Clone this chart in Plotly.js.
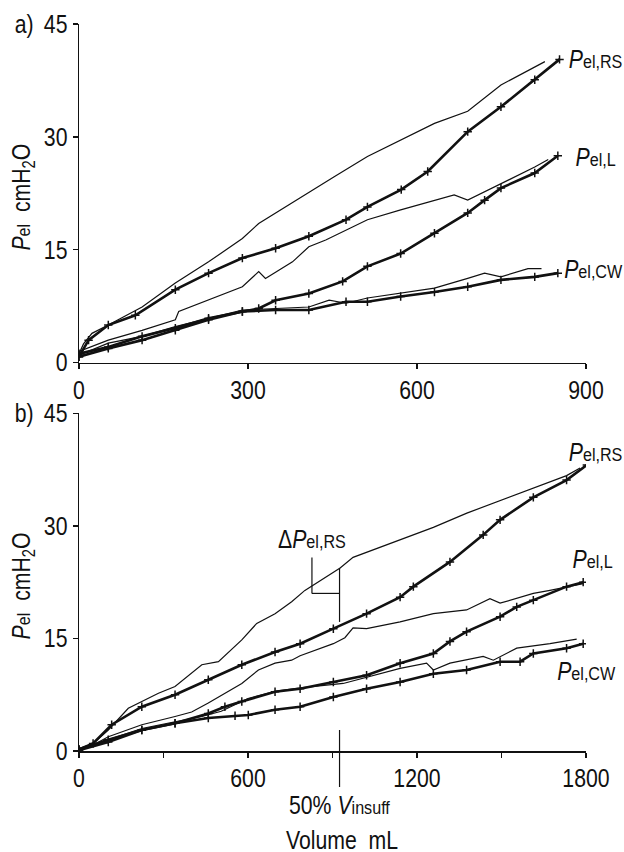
<!DOCTYPE html>
<html>
<head>
<meta charset="utf-8">
<script src="https://cdn.plot.ly/plotly-3.0.1.min.js"></script>
<style>html,body{margin:0;padding:0;background:#fff;}#chart{width:624px;height:852px;}</style>
</head>
<body>
<div id="chart"></div>
<script>
// ---- Panel a (volume mL vs Pel cmH2O) ----
var aXTicks = [0, 300, 600, 900];
var aYTicks = [0, 15, 30, 45];
var aRsThinX = [0, 8, 23, 52, 112, 171, 230, 290, 319, 349, 385, 453, 512, 571, 631, 690, 749, 827];
var aRsThinY = [1.2, 2.5, 3.9, 5.0, 7.4, 10.6, 13.4, 16.5, 18.5, 19.9, 21.6, 24.7, 27.4, 29.6, 31.8, 33.4, 36.9, 40.0];
var aRsMkX = [0, 17, 52, 100, 171, 230, 290, 349, 408, 474, 512, 572, 619, 690, 749, 809, 853];
var aRsMkY = [0.8, 3.0, 5.0, 6.3, 9.7, 11.9, 13.9, 15.2, 16.8, 19.0, 20.7, 23.0, 25.4, 30.7, 34.0, 37.6, 40.3];
var aLThinX = [0, 52, 112, 171, 177, 230, 290, 319, 331, 379, 408, 438, 474, 512, 571, 631, 666, 690, 726, 749, 809, 833];
var aLThinY = [1.5, 3.0, 4.3, 5.7, 6.8, 8.3, 10.1, 12.1, 11.2, 13.4, 15.4, 16.3, 17.6, 19.0, 20.3, 21.6, 22.3, 21.6, 22.9, 23.8, 26.0, 27.0];
var aLMkX = [0, 52, 112, 171, 230, 290, 319, 349, 408, 468, 512, 571, 631, 690, 720, 749, 809, 850];
var aLMkY = [1.2, 2.1, 3.5, 4.6, 5.9, 6.8, 7.2, 8.3, 9.2, 10.8, 12.8, 14.5, 17.2, 19.9, 21.6, 23.2, 25.2, 27.5];
var aCwThinX = [0, 52, 112, 171, 290, 408, 444, 474, 512, 571, 631, 690, 720, 749, 797, 821];
var aCwThinY = [1.0, 2.6, 3.5, 4.8, 7.0, 7.4, 8.3, 7.9, 8.6, 9.2, 9.9, 11.2, 11.9, 11.4, 12.5, 12.5];
var aCwMkX = [0, 52, 112, 171, 230, 290, 349, 408, 474, 512, 571, 631, 690, 749, 809, 850];
var aCwMkY = [0.8, 1.9, 3.0, 4.3, 5.7, 6.8, 7.0, 7.0, 8.1, 8.1, 8.8, 9.4, 10.1, 11.0, 11.4, 11.9];

// ---- Panel b ----
var bXTicks = [0, 300, 600, 900, 1200, 1500, 1800];
var bXTickText = ['0', '', '600', '', '1200', '', '1800'];
var bYTicks = [0, 15, 30, 45];
var bRsThinX = [0, 50, 104, 175, 282, 341, 436, 495, 578, 631, 696, 755, 802, 832, 927, 973, 1140, 1258, 1377, 1495, 1613, 1731, 1779];
var bRsThinY = [0.3, 1.0, 2.8, 5.7, 7.7, 8.6, 11.5, 11.9, 14.8, 17.0, 18.3, 19.9, 21.4, 22.1, 24.4, 25.8, 28.1, 29.8, 31.7, 33.4, 35.0, 36.7, 37.7];
var bRsMkX = [0, 50, 116, 223, 341, 459, 578, 696, 785, 903, 1021, 1140, 1187, 1317, 1435, 1495, 1613, 1731, 1803];
var bRsMkY = [0.2, 1.0, 3.5, 5.9, 7.5, 9.5, 11.5, 13.2, 14.3, 16.3, 18.3, 20.5, 21.9, 25.2, 28.8, 30.8, 33.8, 36.1, 38.1];
var bLThinX = [0, 60, 104, 223, 341, 400, 459, 578, 637, 696, 755, 785, 903, 944, 973, 1021, 1140, 1258, 1376, 1459, 1495, 1613, 1672, 1790];
var bLThinY = [0.3, 1.0, 1.9, 3.5, 4.6, 5.2, 6.4, 9.0, 10.8, 11.7, 12.1, 12.7, 14.3, 15.1, 16.4, 16.3, 17.2, 18.3, 18.8, 20.3, 19.7, 21.0, 21.4, 22.3];
var bLMkX = [0, 104, 223, 341, 459, 518, 578, 696, 785, 903, 1021, 1140, 1258, 1317, 1376, 1495, 1554, 1613, 1731, 1790];
var bLMkY = [0.2, 1.5, 2.8, 3.7, 5.0, 5.9, 6.6, 7.9, 8.3, 9.2, 10.1, 11.7, 13.0, 14.6, 15.9, 17.9, 19.2, 20.1, 21.9, 22.5];
var bCwThinX = [0, 104, 223, 341, 436, 505, 600, 700, 785, 938, 1021, 1140, 1234, 1258, 1317, 1435, 1471, 1554, 1672, 1767];
var bCwThinY = [0.2, 1.5, 3.0, 3.9, 4.6, 5.3, 7.0, 8.0, 8.4, 9.0, 9.8, 11.0, 11.7, 10.8, 11.7, 12.6, 12.1, 13.7, 14.3, 14.9];
var bCwMkX = [0, 104, 223, 341, 459, 554, 601, 696, 785, 903, 1021, 1140, 1258, 1376, 1495, 1566, 1613, 1731, 1790];
var bCwMkY = [0.1, 1.2, 2.8, 3.7, 4.4, 4.7, 4.8, 5.5, 5.9, 7.2, 8.3, 9.2, 10.3, 10.8, 11.9, 11.9, 13.0, 13.7, 14.3];

// annotation values
var vInsuffHalf = 925;          // 50% Vinsuff (mL)
var deltaTop = 24.4, deltaBottom = 17.2; // RS curves at 50% Vinsuff
var bracketX = 827, bracketY = 21.0, bracketLabelY = 25.8;

var FONT = 'Liberation Sans, Arial, sans-serif';
var INK = '#111111';
var NARROW = 0.85; // horizontal condensing of the (narrow) reference typeface

function thin(x, y, xa, ya) {
  return {x: x, y: y, xaxis: xa, yaxis: ya, type: 'scatter', mode: 'lines',
    line: {color: INK, width: 1.2}, hoverinfo: 'skip', showlegend: false};
}
function marked(x, y, xa, ya) {
  return {x: x, y: y, xaxis: xa, yaxis: ya, type: 'scatter', mode: 'lines+markers',
    line: {color: INK, width: 2.6},
    marker: {symbol: 'cross-thin', size: 6, line: {color: INK, width: 1.5}, color: INK},
    hoverinfo: 'skip', showlegend: false};
}

var data = [
  thin(aRsThinX, aRsThinY, 'x', 'y'), marked(aRsMkX, aRsMkY, 'x', 'y'),
  thin(aLThinX, aLThinY, 'x', 'y'), marked(aLMkX, aLMkY, 'x', 'y'),
  thin(aCwThinX, aCwThinY, 'x', 'y'), marked(aCwMkX, aCwMkY, 'x', 'y'),
  thin(bRsThinX, bRsThinY, 'x2', 'y2'), marked(bRsMkX, bRsMkY, 'x2', 'y2'),
  thin(bLThinX, bLThinY, 'x2', 'y2'), marked(bLMkX, bLMkY, 'x2', 'y2'),
  thin(bCwThinX, bCwThinY, 'x2', 'y2'), marked(bCwMkX, bCwMkY, 'x2', 'y2')
];

function axisBase() {
  return {showline: true, linecolor: INK, linewidth: 1.5, ticks: 'outside', ticklen: 5,
    tickwidth: 1.3, tickcolor: INK, showgrid: false, zeroline: false, fixedrange: true,
    tickfont: {family: FONT, size: 25, color: INK}};
}
var xa = axisBase(); xa.domain = [0, 1]; xa.range = [0, 900]; xa.anchor = 'y';
xa.tickmode = 'array'; xa.tickvals = aXTicks;
var ya = axisBase(); ya.domain = [0.5341, 1]; ya.range = [0, 45]; ya.anchor = 'x';
ya.tickmode = 'array'; ya.tickvals = aYTicks;
var xb = axisBase(); xb.domain = [0, 1]; xb.range = [0, 1800]; xb.anchor = 'y2';
xb.tickmode = 'array'; xb.tickvals = bXTicks; xb.ticktext = bXTickText;
var yb = axisBase(); yb.domain = [0, 0.4645]; yb.range = [0, 45]; yb.anchor = 'x2';
yb.tickmode = 'array'; yb.tickvals = bYTicks;

function lbl(text, x, y, xref, yref, extra) {
  var o = {text: text, x: x, y: y, xref: xref, yref: yref, showarrow: false,
    xanchor: 'center', yanchor: 'middle', font: {family: FONT, size: 25, color: INK}};
  for (var k in extra) o[k] = extra[k];
  return o;
}
var sm = function (s) { return "<span style='font-size:19px'>" + s + "</span>"; };
var yTitle = "<i>P</i>" + sm('el') + "&nbsp; cmH<sub>2</sub>O";

var annotations = [
  lbl('a)', -0.1085, 45, 'paper', 'y'),
  lbl('b)', -0.1085, 45, 'paper', 'y2'),
  lbl(yTitle, -0.1105, 22, 'paper', 'y', {textangle: -90}),
  lbl(yTitle, -0.1105, 22, 'paper', 'y2', {textangle: -90}),
  lbl('<i>P</i>' + sm('el,RS'), 1.0187, 40.3, 'paper', 'y'),
  lbl('<i>P</i>' + sm('el,L'), 1.0178, 27.3, 'paper', 'y'),
  lbl('<i>P</i>' + sm('el,CW'), 1.0138, 12.5, 'paper', 'y'),
  lbl('<i>P</i>' + sm('el,RS'), 1.0178, 39.9, 'paper', 'y2'),
  lbl('<i>P</i>' + sm('el,L'), 1.0138, 25.6, 'paper', 'y2'),
  lbl('<i>P</i>' + sm('el,CW'), 1.0, 10.7, 'paper', 'y2'),
  lbl('Δ<i>P</i>' + sm('el,RS'), bracketX, 28.2, 'x2', 'y2'),
  lbl('50% <i>V</i>' + sm('insuff'), vInsuffHalf, -0.0743, 'x2', 'paper'),
  lbl('Volume&nbsp; mL', 0.519, -0.1224, 'paper', 'paper', {borderpad: 0})
];

var shapes = [
  {type: 'line', xref: 'x2', yref: 'y2', x0: bracketX, x1: bracketX, y0: bracketLabelY, y1: bracketY, line: {color: INK, width: 1.2}},
  {type: 'line', xref: 'x2', yref: 'y2', x0: bracketX, x1: vInsuffHalf, y0: bracketY, y1: bracketY, line: {color: INK, width: 1.2}},
  {type: 'line', xref: 'x2', yref: 'y2', x0: vInsuffHalf, x1: vInsuffHalf, y0: deltaTop, y1: deltaBottom, line: {color: INK, width: 1.2}},
  {type: 'line', xref: 'x2', yref: 'paper', x0: vInsuffHalf, x1: vInsuffHalf, y0: 0.0289, y1: -0.0495, line: {color: INK, width: 1.2}}
];

var layout = {
  width: 624, height: 852,
  margin: {l: 79, r: 38, t: 24, b: 101, pad: 0},
  paper_bgcolor: '#ffffff', plot_bgcolor: '#ffffff',
  showlegend: false,
  font: {family: FONT, size: 25, color: INK},
  xaxis: xa, yaxis: ya, xaxis2: xb, yaxis2: yb,
  annotations: annotations, shapes: shapes
};

function condense(gd, s) {
  var texts = gd.querySelectorAll('svg text');
  Array.prototype.forEach.call(texts, function (t) {
    if (!t.textContent || !t.textContent.trim()) return;
    var bb;
    try { bb = t.getBBox(); } catch (e) { return; }
    if (!bb || !bb.width) return;
    var anchor = t.getAttribute('text-anchor') || 'start';
    var cx = anchor === 'end' ? bb.x + bb.width : (anchor === 'middle' ? bb.x + bb.width / 2 : bb.x);
    var tr = t.getAttribute('transform') || '';
    t.setAttribute('transform', tr + ' translate(' + cx + ',0) scale(' + s + ',1) translate(' + (-cx) + ',0)');
  });
}

var gd = document.getElementById('chart');
Plotly.newPlot(gd, data, layout, {staticPlot: true, displayModeBar: false}).then(function () {
  condense(gd, NARROW);
});
</script>
</body>
</html>
